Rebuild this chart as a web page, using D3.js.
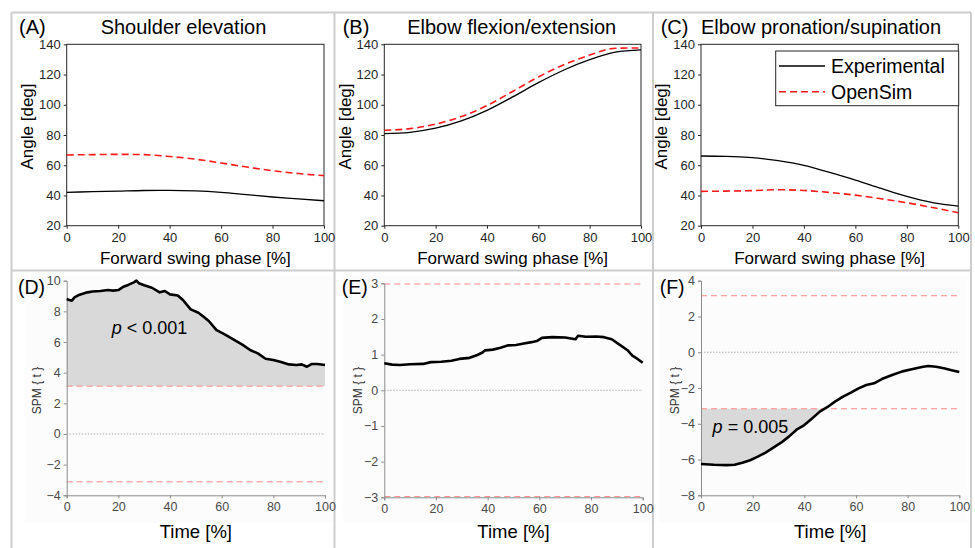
<!DOCTYPE html>
<html>
<head>
<meta charset="utf-8">
<script src="https://cdn.jsdelivr.net/npm/d3@7"></script>
<style>
  body { margin: 0; background: #fff; }
  svg { font-family: "Liberation Sans", Arial, sans-serif; }
</style>
</head>
<body>
<svg id="fig" width="975" height="548"></svg>
<script>
// ---- data ----
const phase = [0, 10, 20, 30, 40, 50, 60, 70, 80, 90, 100];

const shoulderExp = [42.1, 42.5, 42.9, 43.3, 43.4, 43.0, 42.0, 40.5, 39.0, 37.8, 36.5];
const shoulderSim = [66.8, 67.0, 67.2, 67.0, 65.8, 64.0, 61.5, 58.8, 56.4, 54.5, 53.1];
const flexExp = [80.9, 81.8, 84.5, 89.3, 96.3, 105.2, 114.6, 123.0, 129.8, 134.8, 136.3];
const flexSim = [83.1, 84.2, 87.2, 92.2, 99.5, 108.8, 118.4, 126.5, 132.9, 137.4, 137.6];
const pronExp = [66.1, 65.9, 65.0, 63.0, 59.9, 55.2, 50.2, 44.7, 39.4, 35.3, 33.0];
const pronSim = [42.7, 42.9, 43.2, 43.8, 43.3, 42.0, 40.2, 37.8, 35.2, 32.0, 28.6];

const timeD = [0, 1, 2, 3, 5, 8, 10, 13, 16, 18, 20, 22, 24, 26, 27, 28, 30, 33, 36, 38, 40, 43, 45, 48, 51, 53, 55, 58, 61, 65, 68, 71, 74, 77, 80, 83, 86, 89, 91, 93, 95, 97, 100];
const spmD = [8.80, 8.74, 8.70, 8.91, 9.09, 9.24, 9.30, 9.33, 9.39, 9.35, 9.39, 9.61, 9.74, 9.89, 10.0, 9.83, 9.70, 9.54, 9.24, 9.33, 9.11, 9.04, 8.74, 8.13, 7.91, 7.65, 7.37, 6.78, 6.52, 6.13, 5.83, 5.48, 5.26, 4.91, 4.83, 4.70, 4.54, 4.50, 4.54, 4.39, 4.57, 4.57, 4.50];

const timeE = [0, 3, 6, 10, 15, 18, 22, 26, 29, 33, 36, 38, 39, 42, 45, 48, 51, 54, 57, 59, 61, 65, 70, 74, 75, 78, 82, 85, 88, 91, 94, 96, 98, 100];
const spmE = [0.76, 0.72, 0.71, 0.73, 0.74, 0.79, 0.80, 0.83, 0.88, 0.91, 0.99, 1.06, 1.12, 1.14, 1.19, 1.26, 1.27, 1.31, 1.35, 1.38, 1.47, 1.49, 1.48, 1.43, 1.53, 1.50, 1.51, 1.49, 1.43, 1.28, 1.13, 0.97, 0.88, 0.77];

const timeF = [0, 5, 10, 13, 16, 19, 22, 25, 28, 31, 34, 37, 40, 43, 46, 49, 52, 55, 58, 61, 64, 67, 70, 74, 78, 82, 86, 88, 91, 94, 97, 100];
const spmF = [-6.25, -6.29, -6.31, -6.29, -6.18, -6.04, -5.84, -5.61, -5.33, -5.06, -4.72, -4.33, -4.07, -3.70, -3.32, -3.06, -2.75, -2.48, -2.26, -2.02, -1.83, -1.74, -1.50, -1.27, -1.07, -0.94, -0.81, -0.77, -0.81, -0.90, -1.01, -1.11];

const thresholds = [3.12, 2.98, 3.16];
const letters = ["(A)", "(B)", "(C)", "(D)", "(E)", "(F)"];
const titles = ["Shoulder elevation", "Elbow flexion/extension", "Elbow pronation/supination"];
const legendLabels = ["Experimental", "OpenSim"];
const pLabels = ["p < 0.001", null, "p = 0.005"];

// ---- layout ----
const svg = d3.select("#fig");
const colX = [[66.7, 324], [384.3, 641], [701, 958.3]];
const botX = [[66.7, 325], [384.3, 642.7], [701, 959.3]];
const botY = [[280.7, 495.3], [283.3, 497.3], [280.7, 495.3]];
const titleX = [183.5, 511.7, 821];
const letterX = [19, 342.7, 660.7];
const ylabX = [27.3, 345, 661.7];
const spmLabX = [36.7, 358.3, 675];

// panel grid lines
const grid = svg.append("g").attr("stroke", "#cdcdcd").attr("stroke-width", 2);
grid.append("line").attr("x1", 11.5).attr("x2", 11.5).attr("y1", 12.5).attr("y2", 548);
grid.append("line").attr("x1", 971).attr("x2", 971).attr("y1", 12.5).attr("y2", 548);
grid.append("line").attr("x1", 11.5).attr("x2", 971).attr("y1", 12.5).attr("y2", 12.5);
grid.append("line").attr("x1", 11.5).attr("x2", 971).attr("y1", 270.5).attr("y2", 270.5);
grid.append("line").attr("x1", 334.5).attr("x2", 334.5).attr("y1", 12.5).attr("y2", 548);
grid.append("line").attr("x1", 653).attr("x2", 653).attr("y1", 12.5).attr("y2", 548);

// ---- top row: joint angles ----
const topSeries = [[shoulderExp, shoulderSim], [flexExp, flexSim], [pronExp, pronSim]];

topSeries.forEach((pair, i) => {
  const x = d3.scaleLinear().domain([0, 100]).range(colX[i]);
  const y = d3.scaleLinear().domain([20, 140]).range([225.7, 44.3]);
  const g = svg.append("g");

  g.append("rect")
    .attr("x", x(0)).attr("y", y(140))
    .attr("width", x(100) - x(0)).attr("height", y(20) - y(140))
    .attr("fill", "none").attr("stroke", "#262626").attr("stroke-width", 1);

  const xa = g.append("g").attr("transform", `translate(0,${y(20)})`)
    .call(d3.axisBottom(x).tickValues([0, 20, 40, 60, 80, 100]).tickSize(3).tickPadding(4));
  const ya = g.append("g").attr("transform", `translate(${x(0)},0)`)
    .call(d3.axisLeft(y).tickValues([20, 40, 60, 80, 100, 120, 140]).tickSize(3).tickPadding(3));
  [xa, ya].forEach(a => {
    a.select(".domain").remove();
    a.selectAll("line").attr("stroke", "#262626");
    a.selectAll("text").attr("font-size", 13).attr("fill", "#262626")
      .attr("font-family", "'Liberation Sans', Arial, sans-serif");
  });

  const line = vals => d3.line()
    .x((d, k) => x(phase[k])).y(d => y(d))
    .curve(d3.curveMonotoneX)(vals);

  g.append("path").attr("d", line(pair[1]))
    .attr("fill", "none").attr("stroke", "#ff1a1a").attr("stroke-width", 1.6)
    .attr("stroke-dasharray", "7,4");
  g.append("path").attr("d", line(pair[0]))
    .attr("fill", "none").attr("stroke", "#000").attr("stroke-width", 1.3);

  svg.append("text").attr("x", letterX[i]).attr("y", 34).attr("font-size", 20).text(letters[i]);
  svg.append("text").attr("x", titleX[i]).attr("y", 34).attr("font-size", 20)
    .attr("text-anchor", "middle").text(titles[i]);
  svg.append("text")
    .attr("transform", `translate(${ylabX[i]},126.5) rotate(-90)`)
    .attr("text-anchor", "middle").attr("dominant-baseline", "central")
    .attr("font-size", 17).text("Angle [deg]");
  svg.append("text").attr("x", (colX[i][0] + colX[i][1]) / 2).attr("y", 263.5)
    .attr("text-anchor", "middle").attr("font-size", 17).text("Forward swing phase [%]");

  // legend on panel C
  if (i === 2) {
    const lg = svg.append("g");
    lg.append("rect").attr("x", 775.7).attr("y", 51).attr("width", 183).attr("height", 54.7)
      .attr("fill", "#fff").attr("stroke", "#262626").attr("stroke-width", 1);
    const styles = [{ c: "#000", d: null, w: 1.3 }, { c: "#ff1a1a", d: "7,4", w: 1.6 }];
    legendLabels.forEach((lab, k) => {
      const cy = 66 + k * 25.7;
      lg.append("line").attr("x1", 779).attr("x2", 825).attr("y1", cy).attr("y2", cy)
        .attr("stroke", styles[k].c).attr("stroke-width", styles[k].w)
        .attr("stroke-dasharray", styles[k].d);
      lg.append("text").attr("x", 831).attr("y", cy + 7).attr("font-size", 19.5).text(lab);
    });
  }
});

// ---- bottom row: SPM{t} ----
const botTime = [timeD, timeE, timeF];
const botSpm = [spmD, spmE, spmF];
const botDomain = [[-4, 10], [-3, 3], [-8, 4]];
const botTicks = [d3.range(-4, 11, 2), d3.range(-3, 4, 1), d3.range(-8, 5, 2)];
const pPos = [[17.4, 6.52], null, [4.5, -4.5]];

botSpm.forEach((vals, i) => {
  const t = botTime[i];
  const thr = thresholds[i];
  const x = d3.scaleLinear().domain([0, 100]).range(botX[i]);
  const y = d3.scaleLinear().domain(botDomain[i]).range([botY[i][1], botY[i][0]]);
  const g = svg.append("g");

  // faint figure background
  g.append("rect").attr("x", x(0) - 42).attr("y", 276).attr("width", x(100) - x(0) + 50)
    .attr("height", 247).attr("fill", "#fcfcfc");

  // suprathreshold clusters
  const pts = vals.map((v, k) => ({ t: t[k], v: v }));
  if (d3.max(vals) > thr) {
    g.append("path").attr("fill", "#d9d9d9")
      .attr("d", d3.area().x(d => x(d.t)).y0(y(thr)).y1(d => y(Math.max(d.v, thr)))(pts));
  }
  if (d3.min(vals) < -thr) {
    // add crossing point so the cluster ends on the threshold
    const cl = [];
    pts.forEach((p, k) => {
      cl.push(p);
      const q = pts[k + 1];
      if (q && (p.v + thr) * (q.v + thr) < 0) {
        const f = (-thr - p.v) / (q.v - p.v);
        cl.push({ t: p.t + f * (q.t - p.t), v: -thr });
      }
    });
    g.append("path").attr("fill", "#d9d9d9")
      .attr("d", d3.area().defined(d => d.v <= -thr + 1e-9)
        .x(d => x(d.t)).y0(y(-thr)).y1(d => y(d.v))(cl));
  }

  // zero line and thresholds
  g.append("line").attr("x1", x(0)).attr("x2", x(100)).attr("y1", y(0)).attr("y2", y(0))
    .attr("stroke", "#a0a0a0").attr("stroke-width", 0.8).attr("stroke-dasharray", "1.5,1.5");
  [thr, -thr].forEach(h => {
    g.append("line").attr("x1", x(0)).attr("x2", x(100)).attr("y1", y(h)).attr("y2", y(h))
      .attr("stroke", "#ff8a8a").attr("stroke-width", 1).attr("stroke-dasharray", "6,4");
  });

  const xa = g.append("g").attr("transform", `translate(0,${botY[i][1]})`)
    .call(d3.axisBottom(x).tickValues([0, 20, 40, 60, 80, 100]).tickSize(3).tickPadding(4));
  const ya = g.append("g").attr("transform", `translate(${x(0)},0)`)
    .call(d3.axisLeft(y).tickValues(botTicks[i]).tickFormat(d3.format("d")).tickSize(3).tickPadding(3));
  [xa, ya].forEach(a => {
    a.select(".domain").attr("stroke", "#8c8c8c");
    a.selectAll("line").attr("stroke", "#8c8c8c");
    a.selectAll("text").attr("font-size", 12.5).attr("fill", "#4a4a4a")
      .attr("font-family", "'Liberation Sans', Arial, sans-serif");
  });

  g.append("path").attr("fill", "none").attr("stroke", "#000").attr("stroke-width", 2.6)
    .attr("stroke-linejoin", "round")
    .attr("d", d3.line().x(d => x(d.t)).y(d => y(d.v))(pts));

  if (pPos[i]) {
    const parts = pLabels[i].split(" ");
    const tx = g.append("text").attr("x", x(pPos[i][0])).attr("y", y(pPos[i][1]))
      .attr("font-size", 18);
    tx.append("tspan").attr("font-style", "italic").text(parts[0]);
    tx.append("tspan").text(" " + parts.slice(1).join(" "));
  }

  svg.append("text").attr("x", letterX[i] - 1).attr("y", 293.5).attr("font-size", 19.5).text(letters[i + 3]);
  svg.append("text")
    .attr("transform", `translate(${spmLabX[i]},390.5) rotate(-90)`)
    .attr("text-anchor", "middle").attr("dominant-baseline", "central")
    .attr("font-size", 12).attr("fill", "#333").text("SPM { t }");
  svg.append("text").attr("x", (botX[i][0] + botX[i][1]) / 2).attr("y", 538)
    .attr("text-anchor", "middle").attr("font-size", 18.5).text("Time [%]");
});
</script>
</body>
</html>
